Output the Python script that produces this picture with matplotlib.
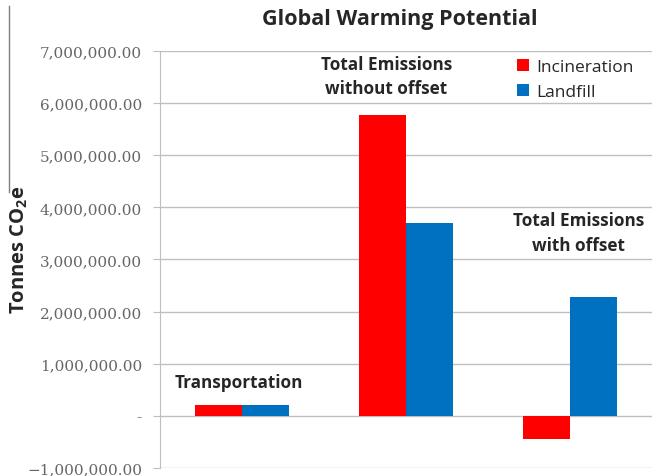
import numpy as np
import matplotlib.pyplot as plt
from matplotlib.lines import Line2D

categories = ["Transportation", "Total Emissions\nwithout offset", "Total Emissions\nwith offset"]
incineration = [200000, 5780000, -440000]
landfill = [200000, 3700000, 2280000]
yticks = [-1000000, 0, 1000000, 2000000, 3000000, 4000000, 5000000, 6000000, 7000000]

plt.rcParams['font.family'] = ['Open Sans', 'DejaVu Sans']
plt.rcParams['mathtext.fontset'] = 'custom'
plt.rcParams['mathtext.bf'] = 'Open Sans:bold'
plt.rcParams['mathtext.rm'] = 'Open Sans'

fig = plt.figure(figsize=(6.54, 4.77), dpi=100)
ax = fig.add_axes([0.2446, 0.0168, 0.7524, 0.8742])

x = np.arange(len(categories)) + 0.5
w = 0.286
ax.bar(x - w / 2, incineration, w, color="#FF0000", label="Incineration", zorder=3)
ax.bar(x + w / 2, landfill, w, color="#0070C0", label="Landfill", zorder=3)

ax.set_xlim(0, 3)
ax.set_ylim(-1000000, 7000000)
ax.set_yticks(yticks)
ax.set_yticklabels(["-" if v == 0 else f"{v:,.2f}".replace("-", "\u2212") for v in yticks],
                   fontsize=11, color="#666666", family=['DejaVu Serif'])
ax.set_xticks([])
ax.grid(axis="y", color="#bfbfbf", linewidth=1, zorder=0)
ax.tick_params(axis="y", length=5, color="#bfbfbf", pad=8)
for s in ["top", "right", "bottom"]:
    ax.spines[s].set_visible(False)
ax.spines["left"].set_color("#bfbfbf")

# category names sit above their bars
label_pos = [(0.48, 650000), (1.38, 6520000), (2.55, 3520000)]
for name, (lx, ly) in zip(categories, label_pos):
    ax.text(lx, ly, name, ha="center", va="center", fontsize=12.3, fontweight="bold",
            color="#262626", linespacing=1.45)

ax.legend(loc="upper left", bbox_to_anchor=(517 / 654, 1 - 60 / 477),
          bbox_transform=fig.transFigure, frameon=False, fontsize=12.5,
          borderpad=0, borderaxespad=0,
          handlelength=0.7, handleheight=0.7, handletextpad=0.4, labelspacing=0.5,
          labelcolor="#262626")

fig.text(0.612, 0.96, "Global Warming Potential", ha="center", va="center",
         fontsize=15.5, fontweight="bold", color="#262626")
fig.text(0.03, 0.476, r"Tonnes CO$_{\mathbf{2}}$e", rotation=90, ha="center", va="center",
         fontsize=14.5, fontweight="bold", color="#262626")
fig.add_artist(Line2D([0.014, 0.014], [0.985, 0.595], color="#7f7f7f", linewidth=1))

fig.savefig("out.png", dpi=100)
